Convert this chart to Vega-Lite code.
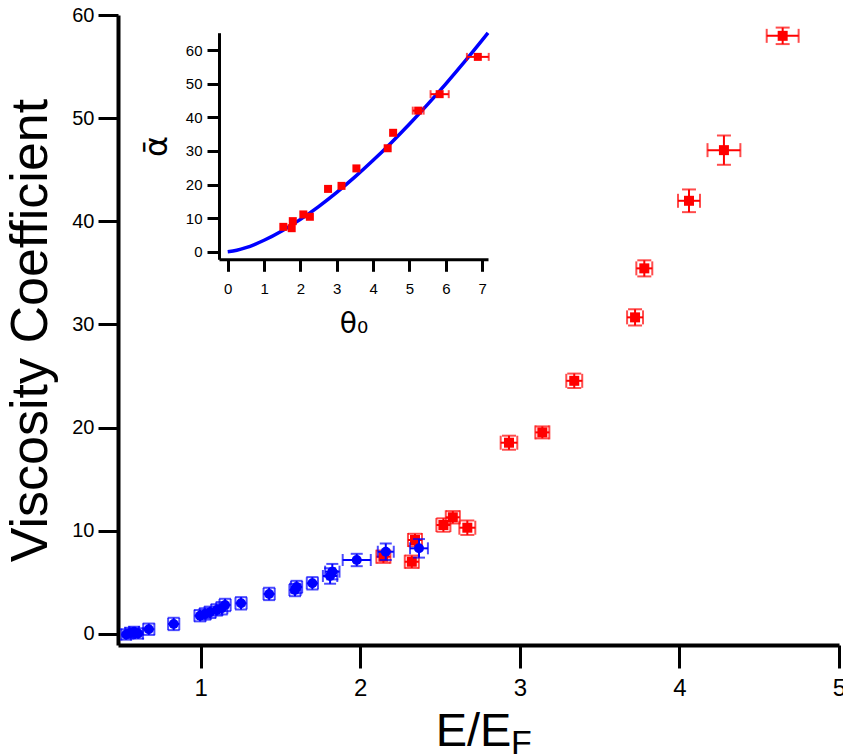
{
  "$schema": "https://vega.github.io/schema/vega-lite/v6.json",
  "width": 721,
  "height": 630,
  "autosize": {"type": "none"},
  "padding": {"left": 118, "top": 15, "right": 4, "bottom": 109},
  "config": {"view": {"stroke": null}, "font": "Liberation Sans"},
  "title": {"text": "F", "orient": "bottom", "anchor": "middle", "dx": 43, "offset": 0, "baseline": "alphabetic", "fontSize": 34, "font": "Liberation Sans", "fontWeight": "normal", "color": "black"},
  "datasets": {
    "red": [
      {"x": 4.647, "y": 57.98, "xe": 0.10, "ye": 0.8},
      {"x": 4.279, "y": 46.9, "xe": 0.103, "ye": 1.42},
      {"x": 4.06, "y": 41.99, "xe": 0.069, "ye": 1.1},
      {"x": 3.78, "y": 35.44, "xe": 0.05, "ye": 0.78},
      {"x": 3.722, "y": 30.69, "xe": 0.05, "ye": 0.78},
      {"x": 3.341, "y": 24.54, "xe": 0.05, "ye": 0.7},
      {"x": 3.141, "y": 19.54, "xe": 0.044, "ye": 0.58},
      {"x": 2.932, "y": 18.54, "xe": 0.052, "ye": 0.68},
      {"x": 2.58, "y": 11.31, "xe": 0.044, "ye": 0.6},
      {"x": 2.521, "y": 10.56, "xe": 0.044, "ye": 0.65},
      {"x": 2.671, "y": 10.30, "xe": 0.05, "ye": 0.7},
      {"x": 2.343, "y": 9.11, "xe": 0.044, "ye": 0.6},
      {"x": 2.323, "y": 7.0, "xe": 0.044, "ye": 0.6},
      {"x": 2.145, "y": 7.49, "xe": 0.044, "ye": 0.6}
    ],
    "blue": [
      {"x": 0.533, "y": -0.05, "xe": 0.03, "ye": 0.5},
      {"x": 0.558, "y": 0.10, "xe": 0.03, "ye": 0.5},
      {"x": 0.583, "y": 0.19, "xe": 0.03, "ye": 0.5},
      {"x": 0.608, "y": 0.05, "xe": 0.03, "ye": 0.5},
      {"x": 0.675, "y": 0.46, "xe": 0.035, "ye": 0.55},
      {"x": 0.831, "y": 0.97, "xe": 0.035, "ye": 0.6},
      {"x": 0.996, "y": 1.77, "xe": 0.035, "ye": 0.55},
      {"x": 1.028, "y": 1.94, "xe": 0.035, "ye": 0.55},
      {"x": 1.059, "y": 2.10, "xe": 0.035, "ye": 0.55},
      {"x": 1.101, "y": 2.33, "xe": 0.035, "ye": 0.55},
      {"x": 1.132, "y": 2.49, "xe": 0.035, "ye": 0.6},
      {"x": 1.153, "y": 2.81, "xe": 0.035, "ye": 0.6},
      {"x": 1.253, "y": 2.97, "xe": 0.035, "ye": 0.6},
      {"x": 1.429, "y": 3.88, "xe": 0.035, "ye": 0.6},
      {"x": 1.591, "y": 4.26, "xe": 0.035, "ye": 0.6},
      {"x": 1.601, "y": 4.55, "xe": 0.035, "ye": 0.6},
      {"x": 1.70, "y": 4.91, "xe": 0.035, "ye": 0.6},
      {"x": 1.811, "y": 5.62, "xe": 0.045, "ye": 0.75},
      {"x": 1.825, "y": 6.04, "xe": 0.045, "ye": 0.75},
      {"x": 1.978, "y": 7.17, "xe": 0.088, "ye": 0.6},
      {"x": 2.16, "y": 7.97, "xe": 0.05, "ye": 0.8},
      {"x": 2.368, "y": 8.30, "xe": 0.056, "ye": 0.9}
    ],
    "inset": [
      {"t": 1.53, "a": 7.4, "te": 0},
      {"t": 1.76, "a": 7.0, "te": 0},
      {"t": 1.79, "a": 9.1, "te": 0},
      {"t": 2.08, "a": 11.1, "te": 0},
      {"t": 2.26, "a": 10.4, "te": 0},
      {"t": 2.76, "a": 18.7, "te": 0},
      {"t": 3.13, "a": 19.6, "te": 0},
      {"t": 3.54, "a": 24.8, "te": 0},
      {"t": 4.40, "a": 30.8, "te": 0},
      {"t": 4.55, "a": 35.4, "te": 0},
      {"t": 5.24, "a": 42.0, "te": 0.15},
      {"t": 5.83, "a": 46.9, "te": 0.25},
      {"t": 6.88, "a": 58.0, "te": 0.3}
    ],
    "curve": [
      {"t": 0, "a": 0}, {"t": 0.25, "a": 0.43}, {"t": 0.5, "a": 1.2}, {"t": 0.75, "a": 2.21},
      {"t": 1, "a": 3.4}, {"t": 1.5, "a": 6.25}, {"t": 2, "a": 9.62}, {"t": 2.5, "a": 13.44},
      {"t": 3, "a": 17.67}, {"t": 3.5, "a": 22.26}, {"t": 4, "a": 27.2}, {"t": 4.5, "a": 32.46},
      {"t": 5, "a": 38.01}, {"t": 5.5, "a": 43.86}, {"t": 6, "a": 49.97}, {"t": 6.5, "a": 56.34},
      {"t": 7, "a": 62.97}, {"t": 7.16, "a": 65.14}
    ]
  },
  "layer": [
    {
      "encoding": {
        "x": {"field": "x", "type": "quantitative",
          "scale": {"domain": [0.482, 5], "nice": false, "zero": false},
          "axis": {"title": "E/E", "values": [1, 2, 3, 4, 5], "grid": false, "tickSize": 23, "tickWidth": 3, "tickColor": "black", "domainWidth": 4, "domainColor": "black", "labelFont": "Liberation Sans", "labelFontSize": 24, "labelColor": "black", "labelPadding": 8, "labelFlush": false, "titleFont": "Liberation Sans", "titleFontSize": 47, "titleFontWeight": "normal", "titleColor": "black", "titleBaseline": "alphabetic", "titleY": 100, "titleX": 355}},
        "y": {"field": "y", "type": "quantitative",
          "scale": {"domain": [-1.07, 60], "nice": false, "zero": false},
          "axis": {"title": "Viscosity Coefficient", "values": [0, 10, 20, 30, 40, 50, 60], "grid": false, "tickSize": 20, "tickWidth": 3, "tickColor": "black", "domainWidth": 4, "domainColor": "black", "labelFont": "Liberation Sans", "labelFontSize": 20, "labelColor": "black", "labelPadding": 4, "labelFlush": false, "titleFont": "Liberation Sans", "titleFontSize": 52, "titleFontWeight": "normal", "titleColor": "black", "titlePadding": 14}}
      },
      "layer": [
        {"data": {"name": "red"}, "mark": {"type": "errorbar", "color": "#ff0000", "thickness": 2, "ticks": {"size": 14}}, "encoding": {"xError": {"field": "xe"}}},
        {"data": {"name": "red"}, "mark": {"type": "errorbar", "color": "#ff0000", "thickness": 2, "ticks": {"size": 14}}, "encoding": {"yError": {"field": "ye"}}},
        {"data": {"name": "red"}, "mark": {"type": "square", "filled": true, "color": "#ff0000", "size": 100, "opacity": 1}},
        {"data": {"name": "blue"}, "mark": {"type": "errorbar", "color": "#0000ff", "thickness": 2, "ticks": {"size": 12}}, "encoding": {"xError": {"field": "xe"}}},
        {"data": {"name": "blue"}, "mark": {"type": "errorbar", "color": "#0000ff", "thickness": 2, "ticks": {"size": 12}}, "encoding": {"yError": {"field": "ye"}}},
        {"data": {"name": "blue"}, "mark": {"type": "circle", "color": "#0000ff", "size": 100, "opacity": 1}}
      ]
    },
    {
      "encoding": {
        "x": {"field": "t", "type": "quantitative",
          "scale": {"domain": [-0.24, 7.16], "range": [101, 370], "nice": false, "zero": false},
          "axis": {"orient": "bottom", "offset": -385.7, "title": "θ₀", "values": [0, 1, 2, 3, 4, 5, 6, 7], "grid": false, "tickSize": 12, "tickWidth": 3, "tickColor": "black", "domainWidth": 3, "domainColor": "black", "labelFont": "Liberation Sans", "labelFontSize": 15, "labelColor": "black", "labelPadding": 10, "labelFlush": false, "titleFont": "DejaVu Sans", "titleFontSize": 28, "titleFontWeight": "normal", "titleColor": "black", "titlePadding": 14}},
        "y": {"field": "a", "type": "quantitative",
          "scale": {"domain": [-2.26, 65.2], "range": [244.3, 17.7], "nice": false, "zero": false},
          "axis": {"orient": "left", "offset": -101, "title": "ᾱ", "values": [0, 10, 20, 30, 40, 50, 60], "grid": false, "tickSize": 12, "tickWidth": 3, "tickColor": "black", "domainWidth": 3, "domainColor": "black", "labelFont": "Liberation Sans", "labelFontSize": 15, "labelColor": "black", "labelPadding": 5, "labelFlush": false, "titleFont": "DejaVu Sans", "titleFontSize": 32, "titleFontWeight": "normal", "titleColor": "black", "titlePadding": 12}}
      },
      "layer": [
        {"data": {"name": "curve"}, "mark": {"type": "line", "color": "#0000ff", "strokeWidth": 3.5, "interpolate": "monotone"}},
        {"data": {"name": "inset"}, "transform": [{"filter": "datum.te > 0"}], "mark": {"type": "errorbar", "color": "#ff0000", "thickness": 2, "ticks": {"size": 8}}, "encoding": {"xError": {"field": "te"}}},
        {"data": {"name": "inset"}, "mark": {"type": "square", "filled": true, "color": "#ff0000", "size": 64, "opacity": 1}}
      ]
    }
  ],
  "resolve": {"scale": {"x": "independent", "y": "independent"}, "axis": {"x": "independent", "y": "independent"}}
}
